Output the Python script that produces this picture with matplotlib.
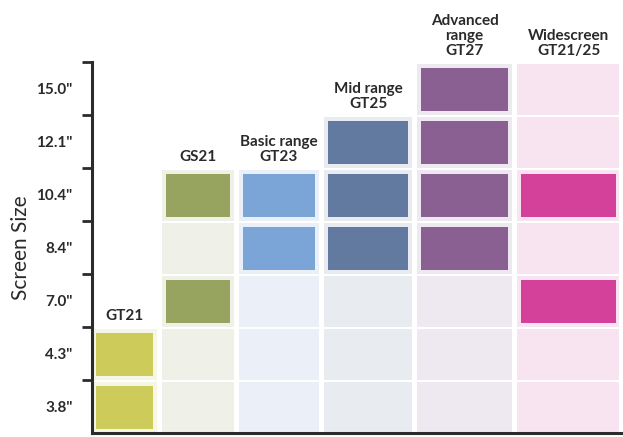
import numpy as np
import matplotlib.pyplot as plt
from matplotlib.patches import Rectangle

# data
models = ["GT21", "GS21", "Basic range\nGT23", "Mid range\nGT25",
          "Advanced\nrange\nGT27", "Widescreen\nGT21/25"]
sizes = ['3.8"', '4.3"', '7.0"', '8.4"', '10.4"', '12.1"', '15.0"']
# largest size row shaded for each model
shaded_up_to = ['4.3"', '10.4"', '10.4"', '12.1"', '15.0"', '15.0"']
available = [
    ['3.8"', '4.3"'],
    ['7.0"', '10.4"'],
    ['8.4"', '10.4"'],
    ['8.4"', '10.4"', '12.1"'],
    ['8.4"', '10.4"', '12.1"', '15.0"'],
    ['7.0"', '10.4"'],
]

# style
box_colors = ["#CDCB5A", "#97A45F", "#7BA5D6", "#627A9F", "#8A5F91", "#D4419A"]
bg_colors = ["#F6F6E6", "#EFF0E8", "#EBF0F8", "#E8EBF0", "#EEE8F0", "#F8E4F0"]
col_widths = [65, 72, 80, 88, 95, 103]
col_gap = 5
row_fill = 0.955
pad_x = 4
pad_y = 0.075

plt.rcParams['font.family'] = ['Lato', 'DejaVu Sans']

fig = plt.figure(figsize=(6.23, 4.37), dpi=100)
ax = fig.add_axes([92 / 623, 4 / 437, 527 / 623, 371 / 437])

starts = np.concatenate([[0], np.cumsum(np.array(col_widths) + col_gap)[:-1]])
for c, name in enumerate(models):
    x0 = starts[c]
    w = col_widths[c]
    top = sizes.index(shaded_up_to[c])
    for r in range(top + 1):
        ax.add_patch(Rectangle((x0, r), w, row_fill, facecolor=bg_colors[c],
                               edgecolor='none', zorder=1))
    for s in available[c]:
        r = sizes.index(s)
        ax.add_patch(Rectangle((x0 + pad_x, r + pad_y), w - 2 * pad_x,
                               row_fill - 2 * pad_y, facecolor=box_colors[c],
                               edgecolor='none', zorder=2))
    ax.text(x0 + w / 2, top + 1.08, name, ha='center', va='bottom',
            fontsize=11, fontweight='bold', color='#2a2a2a',
            linespacing=1.1, clip_on=False)

ax.set_xlim(0, 527)
ax.set_ylim(0, len(sizes))
ax.set_xticks([])
ax.set_yticks(np.arange(len(sizes) + 1)[1:])
ax.set_yticklabels([])
ax.set_yticks(np.arange(len(sizes)) + 0.5, minor=True)
ax.set_yticklabels(sizes, minor=True, fontsize=11, fontweight='bold',
                   color='#2a2a2a')
ax.tick_params(axis='y', which='major', length=7, width=2, color='#2b2b2b',
               direction='out')
ax.tick_params(axis='y', which='minor', length=0, pad=14)
for side in ['top', 'right']:
    ax.spines[side].set_visible(False)
for side in ['left', 'bottom']:
    ax.spines[side].set_linewidth(2.2)
    ax.spines[side].set_color('#2b2b2b')
ax.spines['bottom'].set_bounds(0, 531)
ax.set_ylabel("Screen Size", fontsize=15, fontweight='normal', color='#2a2a2a',
              labelpad=4)

fig.savefig("out.png", dpi=100)
